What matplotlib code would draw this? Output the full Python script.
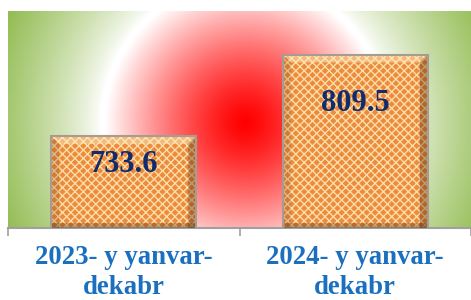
import matplotlib
matplotlib.use("Agg")
import matplotlib.pyplot as plt
from matplotlib.patches import Polygon
import numpy as np

# data
categories = ["2023- y yanvar-\ndekabr", "2024- y yanvar-\ndekabr"]
values = [733.6, 809.5]

plt.rcParams["hatch.linewidth"] = 1.0

fig = plt.figure(figsize=(4.71, 3.0), dpi=100)
ax = fig.add_axes([8 / 471, 1 - 228 / 300, 463 / 471, 217 / 300])
ymin, ymax = 648, 850

# radial background: red centre -> white -> green
w, h = 463, 217
yy, xx = np.mgrid[0:h, 0:w]
r = np.hypot(xx - 237, yy - 111)
red = np.array([1.0, 0.0, 0.0])
white = np.array([1.0, 1.0, 1.0])
green = np.array([0.58, 0.74, 0.33])
t1 = (np.clip(r / 140, 0, 1) ** 1.3)[..., None]
t2 = (np.clip((r - 145) / 115, 0, 1) ** 0.8)[..., None]
img = red * (1 - t1) + white * t1
img = img * (1 - t2) + green * t2
ax.imshow(img, extent=(-0.5, 1.5, ymin, ymax), aspect="auto", zorder=0,
          interpolation="bilinear")

x = np.arange(len(values))
width = 0.626
bars = ax.bar(x, values, width=width, bottom=0, color="#EE8A3C",
              edgecolor="#FBDDA8", hatch="xxxx", linewidth=0, zorder=2)

# bevel edges
bx = 8 / 231.5
by = 8 * (ymax - ymin) / 217
for b in bars:
    x0, x1 = b.get_x(), b.get_x() + b.get_width()
    y0, y1 = ymin, b.get_height()
    top = [(x0, y1), (x1, y1), (x1 - bx, y1 - by), (x0 + bx, y1 - by)]
    left = [(x0, y1), (x0 + bx, y1 - by), (x0 + bx, y0), (x0, y0)]
    right = [(x1, y1), (x1 - bx, y1 - by), (x1 - bx, y0), (x1, y0)]
    bottom = [(x0, y0 + by * 0.6), (x1, y0 + by * 0.6), (x1, y0), (x0, y0)]
    ax.add_patch(Polygon(top, closed=True, facecolor="#FFF3C8", alpha=0.45,
                         linewidth=0, zorder=3))
    ax.add_patch(Polygon(left, closed=True, facecolor="#6B3A10", alpha=0.2,
                         linewidth=0, zorder=3))
    ax.add_patch(Polygon(right, closed=True, facecolor="#4A2508", alpha=0.35,
                         linewidth=0, zorder=3))
    ax.add_patch(Polygon(bottom, closed=True, facecolor="#4A2508", alpha=0.3,
                         linewidth=0, zorder=3))
ax.bar(x, values, width=width, fill=False, edgecolor="#A89C92",
       linewidth=1.5, zorder=4)

label_y = [707, 764]
for xi, v, ly in zip(x, values, label_y):
    ax.text(xi, ly, f"{v}", ha="center", va="center", fontsize=22,
            fontweight="bold", family="Liberation Serif", color="#0F2C6E",
            zorder=5)

ax.set_xlim(-0.5, 1.5)
ax.set_ylim(ymin, ymax)
ax.set_yticks([])
ax.set_xticks(x)
ax.set_xticklabels(categories, fontsize=19.3, fontweight="bold",
                   family="Liberation Serif", color="#1A6FBF",
                   linespacing=1.3)
ax.tick_params(axis="x", which="major", length=0, pad=12)
ax.set_xticks([-0.5, 0.5, 1.5], minor=True)
ax.tick_params(axis="x", which="minor", length=6, color="#A0A0A0", width=1.2)
for s in ["top", "left", "right"]:
    ax.spines[s].set_visible(False)
ax.spines["bottom"].set_color("#A0A0A0")
ax.spines["bottom"].set_linewidth(1.5)

fig.savefig("out.png", dpi=100)
